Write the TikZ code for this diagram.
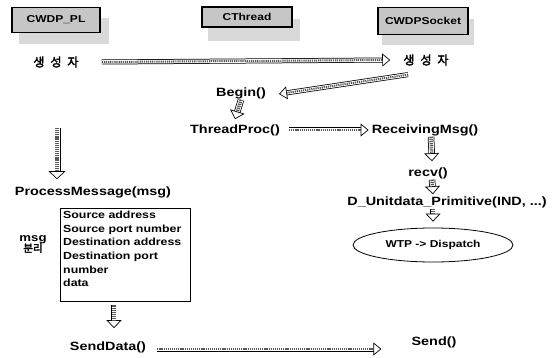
\documentclass[tikz,border=0pt]{standalone}
\usepackage{fontspec}
\setmainfont{Liberation Sans}[FakeStretch=1.2]
\newfontfamily\krfont{Noto Sans CJK KR}[FakeBold=3]
\usetikzlibrary{arrows.meta,shapes.geometric}
\tikzset{
  lbl/.style={font=\bfseries\fontsize{12}{14}\selectfont, inner sep=1pt},
  krl/.style={font=\krfont\fontsize{12}{14}\selectfont, inner sep=1pt},
  hdr/.style={draw=black, line width=1.6pt, fill=gray!45, minimum width=88pt, minimum height=22pt,
     font=\bfseries\fontsize{10}{11}\selectfont, inner sep=1pt},
  shadowbox/.style={fill=gray!30, draw=none, minimum width=88pt, minimum height=24pt},
  blockarrow/.style 2 args={white, line width=0.5pt,
     -{Triangle[black, fill=white, length=8pt, width=#2, line width=0.7pt]},
     preaction={draw=black, line width=#1, -, shorten >=7.5pt},
     preaction={draw=white, line width=#1-1.5pt, -, shorten >=7.5pt},
     postaction={draw=gray!70!black, line width=#1-3pt, dash pattern=on 1.2pt off 0.9pt, -, shorten >=8pt}},
  harrow/.style={blockarrow={5pt}{13pt}},
  varrow/.style={blockarrow={6.5pt}{15pt}},
}
\begin{document}
\begin{tikzpicture}[x=1pt,y=-1pt]
\useasboundingbox (0,0) rectangle (556,358);
% header boxes with shadows
\node[shadowbox, minimum width=90pt, minimum height=26pt] at (64,31) {};
\node[hdr, minimum width=88pt, minimum height=25pt] (h1) at (56,20) {CWDP\_PL};
\node[shadowbox, minimum width=92pt, minimum height=22pt] at (254,30) {};
\node[hdr, minimum width=90pt, minimum height=20pt] (h2) at (247,17) {CThread};
\node[shadowbox, minimum width=92pt, minimum height=26pt] at (428,32) {};
\node[hdr, minimum width=90pt, minimum height=27pt] (h3) at (423,21) {CWDPSocket};
% labels
\node[krl] (sa) at (56,62) {생\hspace{6pt}성\hspace{6pt}자};
\node[krl] (sb) at (426,60) {생\hspace{6pt}성\hspace{6pt}자};
\node[lbl] (begin) at (241,93) {Begin()};
\node[lbl] (thread) at (235,130) {ThreadProc()};
\node[lbl] (rmsg) at (425,130) {ReceivingMsg()};
\node[lbl] (recv) at (428,173) {recv()};
\node[lbl] (dunit) at (447,202) {D\_Unitdata\_Primitive(IND, ...)};
\node[draw=black, line width=0.8pt, ellipse, minimum width=160pt, minimum height=34pt, inner sep=0pt,
      font=\bfseries\fontsize{10}{12}\selectfont] (wtp) at (433,245) {WTP -> Dispatch};
\node[lbl] (proc) at (93,192) {ProcessMessage(msg)};
\node[draw=black, line width=0.8pt, minimum width=130pt, minimum height=93pt, inner sep=0pt] (box) at (125,254.5) {};
\node[anchor=north west, align=left, inner sep=0pt, font=\bfseries\fontsize{10.3}{13.6}\selectfont] (boxtxt) at (63,211)
  {Source address\\Source port number\\Destination address\\Destination port\\number\\data};
\node[align=center, inner sep=0pt] (msgsep) at (33,244)
  {\bfseries\fontsize{11}{12}\selectfont msg\\[-1pt]{\krfont\fontsize{10.5}{12}\selectfont 분리}};
\node[lbl] (sdata) at (108,347) {SendData()};
\node[lbl] (send) at (434,342) {Send()};
% helper coordinates
\coordinate (lstart) at (57,128);
% connectors
\draw[harrow] ([xshift=22pt]sa.east) -- ([xshift=-12pt]sb.west);
\draw[harrow] ([xshift=-18pt,yshift=-8pt]sb.south) -- ([xshift=12pt,yshift=-1pt]begin.east);
\draw[varrow] (begin.south) -- ([yshift=4pt]thread.north);
\draw[harrow] ([xshift=8pt]thread.east) -- ([xshift=-2pt]rmsg.west);
\draw[varrow] ([xshift=6pt]rmsg.south) -- ([xshift=4pt,yshift=5pt]recv.north);
\draw[varrow] ([xshift=4pt]recv.south) -- ([xshift=-14pt,yshift=1pt]dunit.north);
\draw[varrow] ([xshift=-14pt]dunit.south) -- ([yshift=6pt]wtp.north);
\draw[blockarrow={7pt}{17pt}] (lstart) -- ([yshift=6pt]proc.north -| lstart);
\draw[varrow] ([xshift=-11pt,yshift=-4pt]box.south) -- ([xshift=6pt,yshift=12pt]sdata.north);
\draw[harrow] ([xshift=10pt,yshift=-2pt]sdata.east) -- ([xshift=-29pt,yshift=-7pt]send.west);
\end{tikzpicture}
\end{document}
